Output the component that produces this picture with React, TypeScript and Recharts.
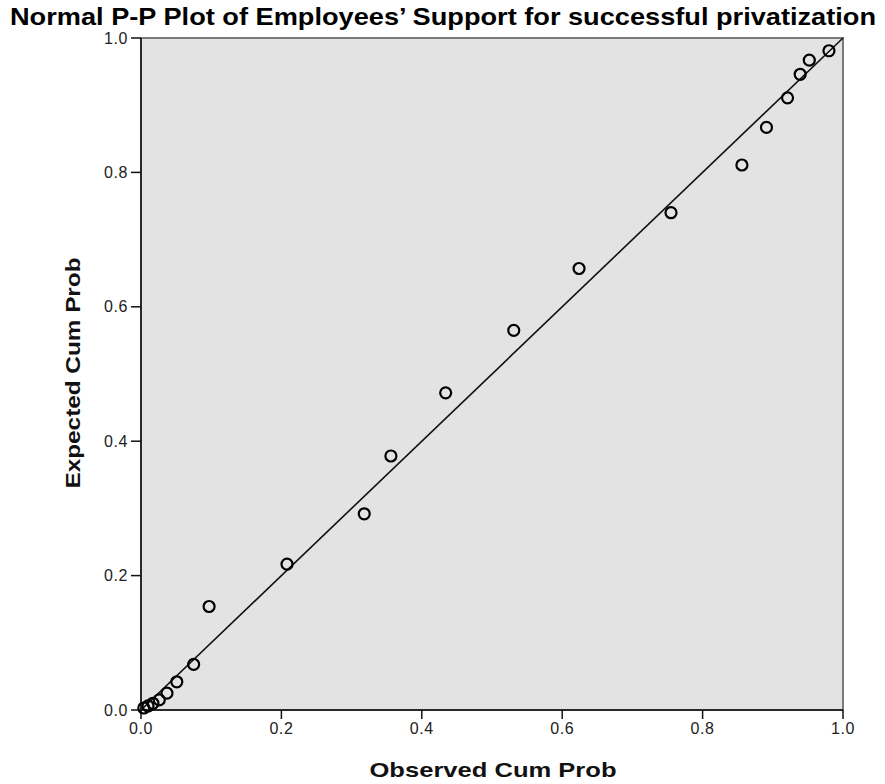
import { ScatterChart, Scatter, XAxis, YAxis, CartesianGrid, ReferenceLine, ReferenceArea } from "recharts";

const observed = [0.004, 0.01, 0.017, 0.026, 0.037, 0.051, 0.075, 0.097, 0.208, 0.318, 0.356, 0.434, 0.531, 0.624, 0.755, 0.856, 0.891, 0.921, 0.939, 0.952, 0.98];
const expected = [0.003, 0.006, 0.01, 0.015, 0.025, 0.042, 0.068, 0.154, 0.217, 0.292, 0.378, 0.472, 0.565, 0.657, 0.74, 0.811, 0.867, 0.911, 0.946, 0.967, 0.981];
const ticks = [0, 0.2, 0.4, 0.6, 0.8, 1.0];

const points = observed.map((x, i) => ({ x, y: expected[i] }));

const font = "'Liberation Sans', Arial, sans-serif";

const Ring = (props: any) => (
  <circle cx={props.cx} cy={props.cy} r={5.5} fill="none" stroke="#000" strokeWidth={2.2} />
);

export default function App() {
  const tickStyle = { fontFamily: font, fontSize: 16, fill: "#222", letterSpacing: 0.6 };
  return (
    <div style={{ position: "absolute", left: 0, top: 0, width: 885, height: 784, background: "#fff" }}>
      <ScatterChart width={885} height={784} margin={{ top: 38, right: 42, bottom: 34, left: 81 }}>
        <CartesianGrid horizontal={false} vertical={false} fill="#e3e3e3" />
        <ReferenceArea x1={0} x2={1} y1={0} y2={1} fill="none" stroke="#7a7a7a" strokeWidth={2} />
        <XAxis
          type="number"
          dataKey="x"
          domain={[0, 1]}
          ticks={ticks}
          tickFormatter={(v: number) => v.toFixed(1)}
          height={40}
          tickSize={9}
          tickMargin={4}
          stroke="#111"
          strokeWidth={1.5}
          tick={tickStyle}
        />
        <YAxis
          type="number"
          dataKey="y"
          domain={[0, 1]}
          ticks={ticks}
          tickFormatter={(v: number) => v.toFixed(1)}
          width={60}
          tickSize={10}
          tickMargin={3}
          stroke="#111"
          strokeWidth={1.5}
          tick={tickStyle}
        />
        <ReferenceLine segment={[{ x: 0, y: 0 }, { x: 1, y: 1 }]} stroke="#111" strokeWidth={1.6} />
        <Scatter data={points} shape={<Ring />} isAnimationActive={false} />
      </ScatterChart>
      <svg width={885} height={784} style={{ position: "absolute", left: 0, top: 0, pointerEvents: "none" }}>
        <text x={443} y={25} textAnchor="middle" fontFamily={font} fontWeight="bold" fontSize={24} textLength={866} lengthAdjust="spacingAndGlyphs" fill="#000">
          Normal P-P Plot of Employees’ Support for successful privatization
        </text>
        <text x={493} y={777} textAnchor="middle" fontFamily={font} fontWeight="bold" fontSize={21} textLength={247} lengthAdjust="spacingAndGlyphs" fill="#111">
          Observed Cum Prob
        </text>
        <text x={0} y={0} transform="translate(80,373) rotate(-90)" textAnchor="middle" fontFamily={font} fontWeight="bold" fontSize={21} textLength={231} lengthAdjust="spacingAndGlyphs" fill="#111">
          Expected Cum Prob
        </text>
      </svg>
    </div>
  );
}
